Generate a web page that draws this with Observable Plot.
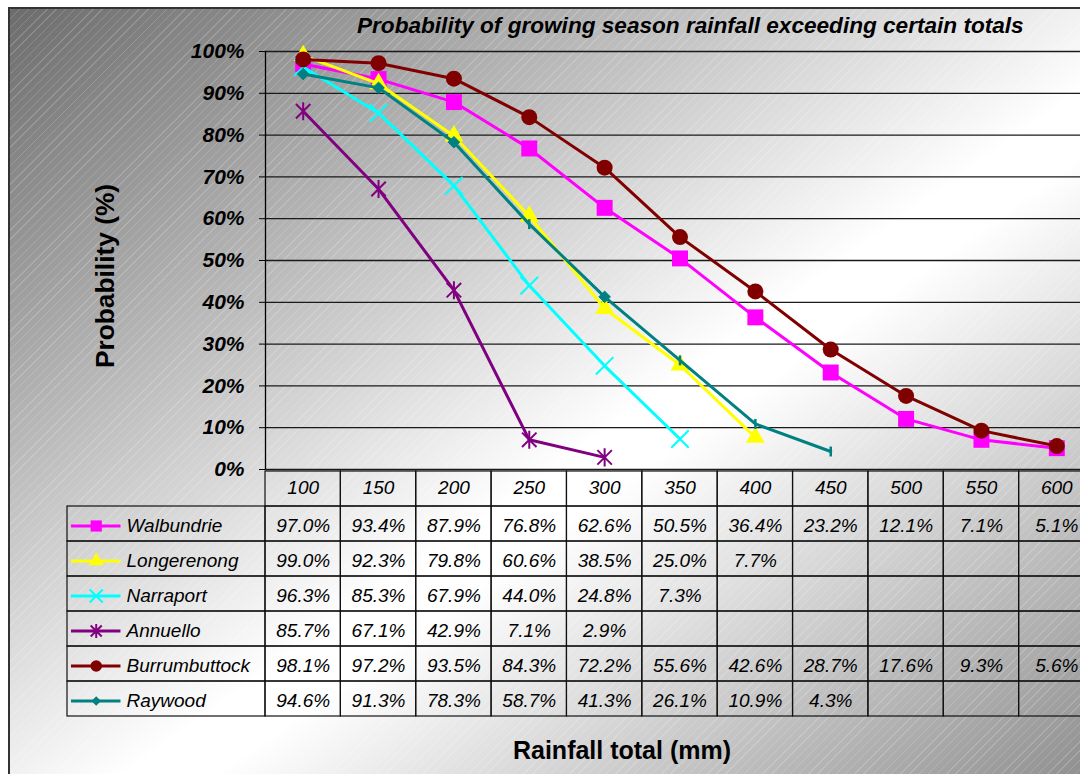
<!DOCTYPE html>
<html>
<head>
<meta charset="utf-8">
<script src="https://cdn.jsdelivr.net/npm/d3@7"></script>
<script src="https://cdn.jsdelivr.net/npm/@observablehq/plot@0.6"></script>
<style>
  html, body { margin: 0; padding: 0; background: #fff; }
  #wrap { position: relative; width: 1080px; height: 774px; overflow: hidden; background: #fff;
          font-family: "Liberation Sans", Arial, sans-serif; }
  #area { position: absolute; left: 8px; top: 7px; width: 1120px; height: 800px;
          border-left: 2px solid #333; border-top: 2px solid #333;
          background:
            repeating-linear-gradient(135deg, rgba(255,255,255,0.17) 0px, rgba(255,255,255,0.17) 1px, rgba(255,255,255,0) 1px, rgba(255,255,255,0) 6.5px),
            linear-gradient(to bottom right, #6c6c6c 0%, #ffffff 53%, #ffffff 57%, #848484 100%); }
  .layer { position: absolute; left: 0; top: 0; }
  #title { position: absolute; left: 357px; top: 13px; font-weight: bold; font-style: italic; font-size: 22.6px; color: #000; white-space: nowrap; }
  #ytitle { position: absolute; left: 105px; top: 276px; transform: translate(-50%, -50%) rotate(-90deg);
            font-weight: bold; font-size: 26.3px; color: #000; white-space: nowrap; }
  #xtitle { position: absolute; left: 622px; top: 750px; transform: translate(-50%, -50%);
            font-weight: bold; font-size: 25px; color: #000; white-space: nowrap; }
</style>
</head>
<body>
<div id="wrap">
  <div id="area"></div>
  <div id="chart" class="layer"></div>
  <div id="table" class="layer"></div>
  <div id="title">Probability of growing season rainfall exceeding certain totals</div>
  <div id="ytitle">Probability (%)</div>
  <div id="xtitle">Rainfall total (mm)</div>
</div>
<script>
// ---- data ----
const rainfall = [100, 150, 200, 250, 300, 350, 400, 450, 500, 550, 600];
const stations = ["Walbundrie", "Longerenong", "Narraport", "Annuello", "Burrumbuttock", "Raywood"];
const walbundrie    = [97.0, 93.4, 87.9, 76.8, 62.6, 50.5, 36.4, 23.2, 12.1, 7.1, 5.1];
const longerenong   = [99.0, 92.3, 79.8, 60.6, 38.5, 25.0, 7.7];
const narraport     = [96.3, 85.3, 67.9, 44.0, 24.8, 7.3];
const annuello      = [85.7, 67.1, 42.9, 7.1, 2.9];
const burrumbuttock = [98.1, 97.2, 93.5, 84.3, 72.2, 55.6, 42.6, 28.7, 17.6, 9.3, 5.6];
const raywood       = [94.6, 91.3, 78.3, 58.7, 41.3, 26.1, 10.9, 4.3];
const raywoodMarkers = ["diamond", "diamond", "diamond", "tick", "diamond", "tick", "tick", "tick"];
const yTicks = [0, 10, 20, 30, 40, 50, 60, 70, 80, 90, 100];
const colors = ["#FF00FF", "#FFFF00", "#00FFFF", "#800080", "#800000", "#008080"];
const symbols = ["square", "triangle", "times", "star", "circle", "diamond2"];
const symbolR = [9, 7, 8, 8.5, 8, 5.2];
const legendR = [6.3, 5.5, 6, 6.5, 5.8, 4.3];

const seriesValues = [walbundrie, longerenong, narraport, annuello, burrumbuttock, raywood];
const rows = stations.flatMap((s, i) => seriesValues[i].map((v, j) => ({
  station: s, rain: rainfall[j], value: v,
  marker: s === "Raywood" ? raywoodMarkers[j] : symbols[i]
})));

// ---- layout ----
const W = 1094, H = 774;
const plotLeft = 265, tableLeft = 67;
const step = rainfall[1] - rainfall[0];
const xMin = rainfall[0] - step / 2, xMax = rainfall[rainfall.length - 1] + step / 2;
const pxPerUnit = (W - plotLeft) / (xMax - xMin);
const legendUnits = (plotLeft - tableLeft) / pxPerUnit;
const legendLeft = xMin - legendUnits;

// custom marker shapes (Excel-style)
const tickSymbol = { draw(ctx, size) { const r = Math.sqrt(size) / 2; ctx.moveTo(0, -r); ctx.lineTo(0, r); } };
const starSymbol = { draw(ctx, size) {
  const r = Math.sqrt(size) * 0.6, u = r * 0.8;
  ctx.moveTo(0, -r); ctx.lineTo(0, r);
  ctx.moveTo(-u, -u); ctx.lineTo(u, u);
  ctx.moveTo(-u, u); ctx.lineTo(u, -u);
} };
const symbolOf = s => s === "star" ? starSymbol : s;
const strokeSymbols = new Set(["times", "star"]);

const colorScale = { domain: stations, range: colors };
const font = '"Liberation Sans", Arial, sans-serif';

// ---- chart ----
const chartMarks = [
  Plot.ruleY(yTicks, { stroke: "#1a1a1a", strokeWidth: 1.3 }),
  Plot.ruleX([xMin], { stroke: "#000", strokeWidth: 1.3 })
];
stations.forEach((s, i) => {
  const data = rows.filter(d => d.station === s);
  chartMarks.push(Plot.line(data, { x: "rain", y: "value", stroke: "station", strokeWidth: 3 }));
  if (s === "Raywood") {
    chartMarks.push(Plot.dot(data.filter(d => d.marker === "diamond"),
      { x: "rain", y: "value", symbol: "diamond2", r: symbolR[i], fill: "station", stroke: "station", strokeWidth: 1 }));
    chartMarks.push(Plot.dot(data.filter(d => d.marker === "tick"),
      { x: "rain", y: "value", symbol: tickSymbol, r: 5.6, fill: "none", stroke: "station", strokeWidth: 2.5 }));
  } else if (strokeSymbols.has(symbols[i])) {
    chartMarks.push(Plot.dot(data, { x: "rain", y: "value", symbol: symbolOf(symbols[i]), r: symbolR[i], fill: "none", stroke: "station", strokeWidth: 2 }));
  } else {
    chartMarks.push(Plot.dot(data, { x: "rain", y: "value", symbol: symbols[i], r: symbolR[i], fill: "station", stroke: "none" }));
  }
});

const chart = Plot.plot({
  width: W, height: H,
  marginLeft: plotLeft, marginRight: 0, marginTop: 51, marginBottom: H - 469,
  x: { domain: [xMin, xMax], axis: null },
  y: { domain: [0, 100], ticks: yTicks, tickFormat: d => d + "%", tickSize: 6, tickPadding: 15, label: null },
  color: colorScale,
  style: { background: "transparent", maxWidth: "none", overflow: "visible", fontFamily: font,
           fontSize: "21px", fontWeight: "bold", fontStyle: "italic", color: "#000" },
  marks: chartMarks
});
document.getElementById("chart").appendChild(chart);

// ---- data table ----
const rowKeys = ["header", ...stations];
const cells = [
  ...rowKeys.flatMap(r => rainfall.map(x => ({ row: r, x1: x - step / 2, x2: x + step / 2 }))),
  ...stations.map(s => ({ row: s, x1: legendLeft, x2: xMin }))
];
const legendX1 = legendLeft + 0.02 * legendUnits;
const legendX2 = legendLeft + 0.27 * legendUnits;
const legendXM = legendLeft + 0.145 * legendUnits;

const tableMarks = [
  Plot.barX(cells, { x1: "x1", x2: "x2", y: "row", fill: "none", stroke: "#111", strokeWidth: 1.2 }),
  Plot.text(rainfall, { x: d => d, y: () => "header", text: d => String(d), dy: -1 }),
  Plot.text(rows, { x: "rain", y: "station", text: d => d.value.toFixed(1) + "%", dy: 2 }),
  Plot.ruleY(stations, { y: d => d, x1: legendX1, x2: legendX2, stroke: d => d, strokeWidth: 3, dy: 2 }),
  Plot.text(stations, { y: d => d, frameAnchor: "left", dx: 59, dy: 2, textAnchor: "start", text: d => d })
];
stations.forEach((s, i) => {
  const sym = symbols[i];
  if (strokeSymbols.has(sym)) {
    tableMarks.push(Plot.dot([s], { x: legendXM, y: d => d, dy: 2, symbol: symbolOf(sym), r: legendR[i], fill: "none", stroke: d => d, strokeWidth: 2 }));
  } else {
    tableMarks.push(Plot.dot([s], { x: legendXM, y: d => d, dy: 2, symbol: sym, r: legendR[i], fill: d => d, stroke: "none" }));
  }
});

const table = Plot.plot({
  width: W, height: H,
  marginLeft: tableLeft, marginRight: 0, marginTop: 469, marginBottom: H - 717,
  x: { domain: [legendLeft, xMax], axis: null },
  y: { type: "band", domain: rowKeys, padding: 0, axis: null },
  color: colorScale,
  style: { background: "transparent", maxWidth: "none", overflow: "visible", fontFamily: font,
           fontSize: "19px", fontStyle: "italic", color: "#000" },
  marks: tableMarks
});
document.getElementById("table").appendChild(table);
</script>
</body>
</html>
